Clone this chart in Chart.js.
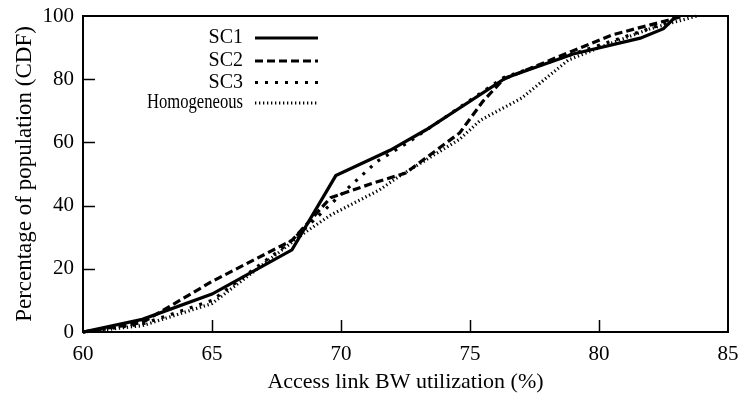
<!DOCTYPE html>
<html>
<head>
<meta charset="utf-8">
<script src="https://cdn.jsdelivr.net/npm/chart.js@4"></script>
<style>
  html, body { margin: 0; padding: 0; background: #fff; }
  #wrap { width: 741px; height: 398px; position: relative; }
</style>
</head>
<body>
<div id="wrap"><canvas id="c" width="741" height="398"></canvas></div>
<script>
// ---- data ----
const seriesNames = ["SC1", "SC2", "SC3", "Homogeneous"];
const xTicks = [60, 65, 70, 75, 80, 85];
const yTicks = [0, 20, 40, 60, 80, 100];

const sc1X = [60, 62.3, 65, 68.1, 69.8, 71.9, 73.3, 76.4, 79.0, 81.6, 82.5, 83.0];
const sc1Y = [0, 4, 12, 26, 49.5, 57.5, 64, 80.5, 88, 93, 96, 100];

const sc2X = [60, 62.3, 65, 68.1, 69.6, 71.2, 72.5, 74.6, 75.5, 76.3, 79.0, 80.5, 82.6, 83.3];
const sc2Y = [0, 3, 16, 29, 42.5, 47, 50.3, 63, 73, 80, 89, 94, 98.5, 100];

const sc3X = [60, 62.3, 65, 67.8, 68.9, 69.8, 71.4, 72.6, 76.3, 79.0, 82.5, 83.1];
const sc3Y = [0, 2.5, 10, 27, 35, 42, 54, 60, 80.5, 88, 97.5, 100];

const homX = [60, 62.3, 65, 68.6, 69.6, 71.5, 72.2, 74.6, 75.4, 77.0, 78.8, 80.0, 82.0, 83.8];
const homY = [0, 2, 9, 31.5, 37, 45, 49, 61, 67, 74, 86, 90, 96, 100];

const pts = (xs, ys) => xs.map((x, i) => ({ x: x, y: ys[i] }));

const styles = [
  { borderWidth: 3.2, borderDash: [] },
  { borderWidth: 3.2, borderDash: [8, 4] },
  { borderWidth: 3.2, borderDash: [3, 7] },
  { borderWidth: 3.2, borderDash: [1.3, 2.7] }
];

const allX = [sc1X, sc2X, sc3X, homX];
const allY = [sc1Y, sc2Y, sc3Y, homY];

const datasets = seriesNames.map((name, i) => ({
  label: name,
  data: pts(allX[i], allY[i]),
  borderColor: "#000",
  backgroundColor: "#000",
  borderWidth: styles[i].borderWidth,
  borderDash: styles[i].borderDash,
  pointRadius: 0,
  tension: 0,
  fill: false,
  clip: false,
  borderCapStyle: "butt",
  borderJoinStyle: "miter"
}));

const FONT = "'Liberation Serif', 'DejaVu Serif', serif";

// frame, inward ticks, custom legend
const framePlugin = {
  id: "frame",
  afterDatasetsDraw(chart) {
    const { ctx, chartArea: a, scales } = chart;
    ctx.save();
    ctx.strokeStyle = "#000";
    ctx.lineWidth = 2;
    ctx.strokeRect(a.left, a.top, a.right - a.left, a.bottom - a.top);
    ctx.lineWidth = 1.5;
    const tl = 12;
    xTicks.forEach(v => {
      if (v === xTicks[0] || v === xTicks[xTicks.length - 1]) return;
      const px = Math.round(scales.x.getPixelForValue(v)) + 0.5;
      ctx.beginPath(); ctx.moveTo(px, a.bottom); ctx.lineTo(px, a.bottom - tl); ctx.stroke();
    });
    yTicks.forEach(v => {
      if (v === yTicks[0] || v === yTicks[yTicks.length - 1]) return;
      const py = Math.round(scales.y.getPixelForValue(v)) + 0.5;
      ctx.beginPath(); ctx.moveTo(a.left, py); ctx.lineTo(a.left + tl, py); ctx.stroke();
    });
    // legend
    ctx.font = "20px " + FONT;
    ctx.fillStyle = "#000";
    ctx.textAlign = "right";
    ctx.textBaseline = "middle";
    const rows = [22, 45, 66.5, 87];
    chart.data.datasets.forEach((ds, i) => {
      const y = a.top + rows[i];
      ctx.fillText(ds.label, a.left + 160, y, 96);
      ctx.beginPath();
      ctx.setLineDash(ds.borderDash);
      ctx.lineWidth = ds.borderWidth;
      ctx.lineCap = "butt";
      ctx.moveTo(a.left + 172, y);
      ctx.lineTo(a.left + 235, y);
      ctx.stroke();
      ctx.setLineDash([]);
    });
    ctx.restore();
  }
};

new Chart(document.getElementById("c"), {
  type: "line",
  data: { datasets: datasets },
  plugins: [framePlugin],
  options: {
    responsive: false,
    animation: false,
    devicePixelRatio: 1,
    layout: { padding: { top: 16, right: 13, bottom: 0, left: 0 } },
    plugins: { legend: { display: false }, tooltip: { enabled: false } },
    scales: {
      x: {
        type: "linear",
        min: xTicks[0], max: xTicks[xTicks.length - 1],
        afterBuildTicks: s => { s.ticks = xTicks.map(v => ({ value: v })); },
        ticks: { color: "#000", font: { family: FONT, size: 21 }, padding: 10, maxRotation: 0 },
        grid: { display: false, drawTicks: false },
        border: { display: false },
        title: { display: true, text: "Access link BW utilization (%)", color: "#000", font: { family: FONT, size: 22 }, padding: { top: 0, bottom: 3 } },
        afterFit: s => { s.height = 66; s.paddingLeft = 0; s.paddingRight = 0; }
      },
      y: {
        type: "linear",
        min: yTicks[0], max: yTicks[yTicks.length - 1],
        afterBuildTicks: s => { s.ticks = yTicks.map(v => ({ value: v })); },
        ticks: { color: "#000", font: { family: FONT, size: 21 }, padding: 9 },
        grid: { display: false, drawTicks: false },
        border: { display: false },
        title: { display: true, text: "Percentage of population (CDF)", color: "#000", font: { family: FONT, size: 23 }, padding: { top: 11, bottom: 0 } },
        afterFit: s => { s.width = 83; s.paddingTop = 0; s.paddingBottom = 0; }
      }
    }
  }
});
</script>
</body>
</html>
